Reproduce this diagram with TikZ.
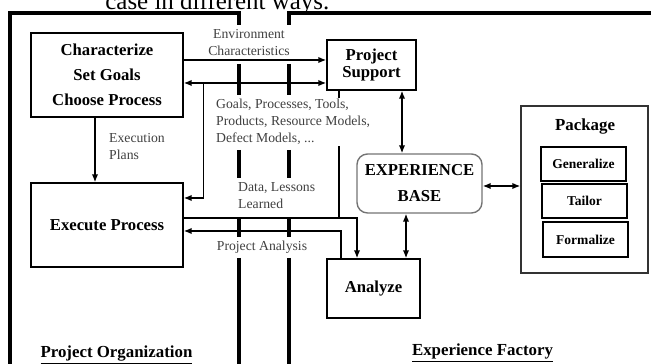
\documentclass[tikz,border=0pt]{standalone}
\usepackage{fontspec}
\setmainfont{Liberation Serif}
\usepackage{tikz}
\usetikzlibrary{
  calc,
  positioning,
  arrows.meta
}

\begin{document}
\begin{tikzpicture}[
    box/.style={draw,line width=0.8,align=center,inner sep=2pt,
      font=\bfseries\fontsize{9.5}{14.2}\selectfont},
    subbox/.style={draw,line width=0.9,minimum width=1.7cm,minimum height=0.68cm,
      font=\bfseries\fontsize{7.7}{9}\selectfont},
    lbl/.style={text=black!75,inner sep=0.5pt,font=\fontsize{7.8}{9.7}\selectfont},
    title/.style={font=\bfseries\fontsize{9.6}{11}\selectfont},
    arr/.style={->,>={Latex[length=4.5pt,width=3.6pt]},line width=0.8},
    dbl/.style={<->,>={Latex[length=4.5pt,width=3.6pt]},line width=0.8},
    frame/.style={line width=2.4pt}
  ]
  \useasboundingbox (0,0) rectangle (13.02,7.28);

  \node[anchor=base west,inner sep=0,font=\fontsize{14.2}{16}\selectfont]
  at (2.1,7.08) (Caption) {case in different ways.};

  % heavy frame with the two split bars
  \draw[frame] (0.2,-0.1) -- (0.2,7.02) -- (4.78,7.02) -- (4.78,6.78);
  \draw[frame] (5.78,6.78) -- (5.78,7.02) -- (13.2,7.02);
  \foreach \x in {4.78,5.78}
    \foreach \a/\b in {6.0/5.38, 4.28/3.72, 2.92/2.54, 2.12/-0.1}
      \draw[frame] (\x,\a) -- (\x,\b);

  \node[box,minimum width=3.04cm,minimum height=1.68cm] at (2.14,5.78) (Characterize)
  {Characterize\\Set Goals\\Choose Process};
  \node[box,minimum width=1.78cm,minimum height=1.0cm,
    font=\bfseries\fontsize{9.5}{10}\selectfont] at (7.43,5.98) (Support) {Project\\Support};
  \node[box,minimum width=3.04cm,minimum height=1.68cm] at (2.14,2.78) (Execute)
  {Execute Process};
  \node[box,draw=black!55,rounded corners=6pt,minimum width=2.5cm,minimum height=1.18cm,
    font=\bfseries\fontsize{9.5}{14.8}\selectfont] at (8.39,3.61) (Base) {EXPERIENCE\\BASE};
  \node[box,minimum width=1.86cm,minimum height=1.18cm] at (7.47,1.51) (Analyze) {Analyze};

  \node[draw=black!80,line width=0.8,minimum width=2.54cm,minimum height=3.34cm]
  at (11.69,3.49) (Package) {};
  \node[title] at (11.7,4.74) (PackageTitle) {Package};
  \node[subbox] at (11.67,4.0) (Generalize) {Generalize};
  \node[subbox] at (11.69,3.26) (Tailor) {Tailor};
  \node[subbox,minimum height=0.7cm] at (11.71,2.49) (Formalize) {Formalize};

  \draw[arr] ([yshift=0.3cm]Characterize.east) -- ([yshift=0.3cm]Characterize.east -| Support.west);
  \draw[dbl] ([yshift=-0.16cm]Characterize.east) -- ([yshift=-0.16cm]Characterize.east -| Support.west);
  \coordinate (Branch) at ($(Characterize.east)+(0.4,-0.16)$);
  \draw[arr] (Branch) |- ([yshift=0.54cm]Execute.east);
  \draw[arr] ([xshift=-0.24cm]Characterize.south) -- ([xshift=-0.24cm]Execute.north);
  \node[lbl,align=left,anchor=west] at (2.16,4.34) (PlansLabel) {Execution\\Plans};

  \draw[line width=0.8] ($(Support.south)+(-0.65,0)$) -- ($(Support.south |- Execute.east)+(-0.65,0.14)$);
  \draw[arr] ([yshift=0.14cm]Execute.east) -| ($(Analyze.north)+(-0.33,0)$);
  \draw[arr] ($(Analyze.north)+(-0.65,0)$) |- ([yshift=-0.12cm]Execute.east);

  \draw[dbl] ($(Support.south)+(0.61,0)$) -- ($(Support.south |- Base.north)+(0.61,0)$);
  \draw[dbl] ($(Analyze.north)+(0.65,0)$) -- ($(Analyze.north |- Base.south)+(0.65,0)$);
  \draw[dbl] ($(Base.east)+(0,-0.05)$) -- ($(Base.east -| Package.west)+(0,-0.05)$);

  \node[lbl,align=center] at (4.98,6.42) (EnvLabel) {Environment\\Characteristics};
  \node[lbl,align=left,anchor=west,fill=white] at (4.3,4.84) (GoalsLabel)
  {Goals, Processes, Tools,\\Products, Resource Models,\\Defect Models, ...};
  \node[lbl,align=left,anchor=west] at (4.74,3.36) (DataLabel) {Data, Lessons\\Learned};
  \node[lbl] at (5.24,2.34) (AnalysisLabel) {Project Analysis};

  \node[title] at (2.33,0.18) (OrgTitle) {\underline{Project Organization}};
  \node[title] at (9.65,0.22) (FactoryTitle) {\underline{Experience Factory}};
\end{tikzpicture}
\end{document}
